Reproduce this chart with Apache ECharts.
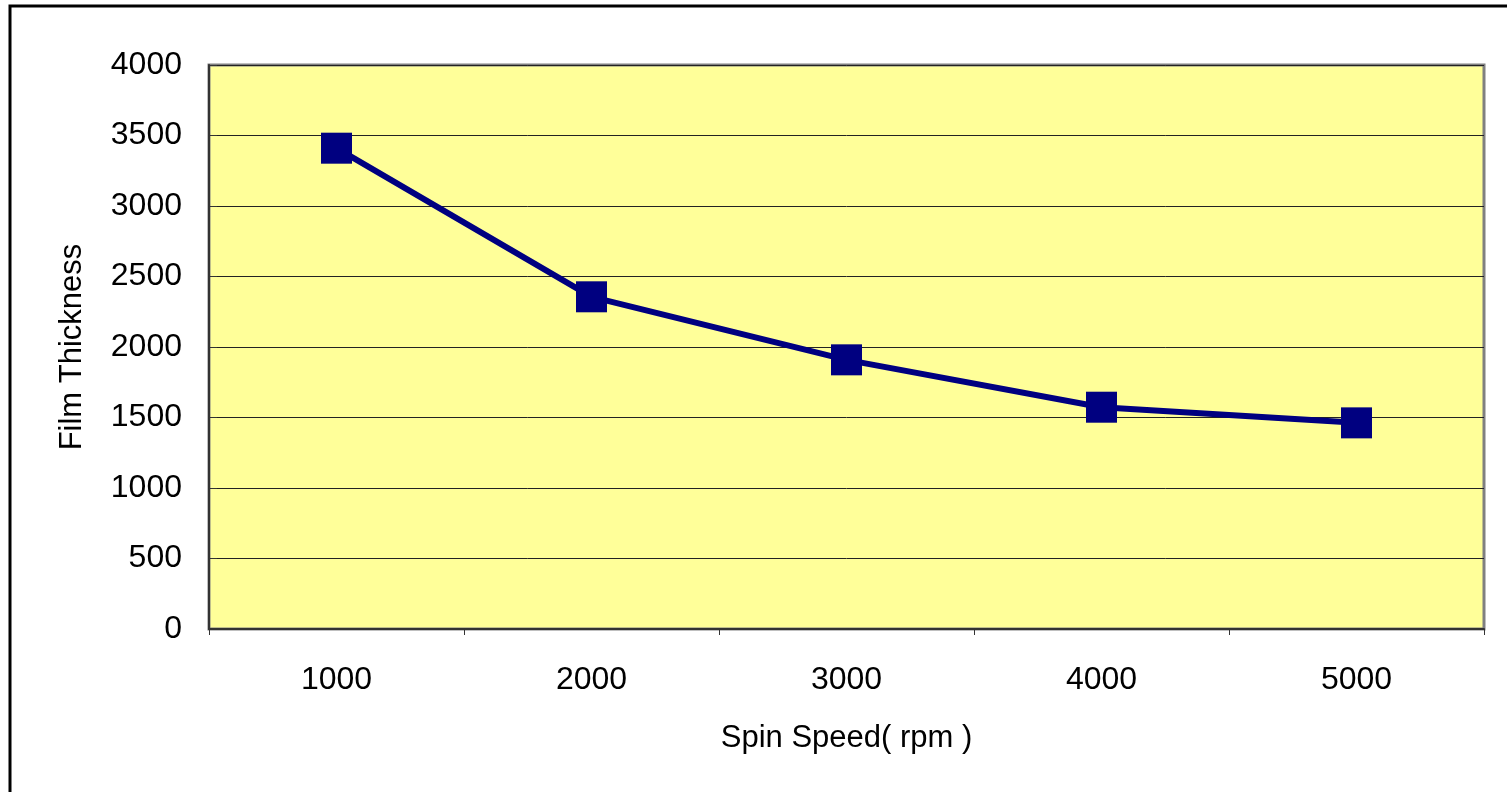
<!DOCTYPE html>
<html>
<head>
<meta charset="utf-8">
<script src="https://cdn.jsdelivr.net/npm/echarts@6/dist/echarts.min.js"></script>
<style>
html,body{margin:0;padding:0;background:#fff;}
#chart{width:1507px;height:792px;}
</style>
</head>
<body>
<div id="chart"></div>
<script>
var categories = ['1000', '2000', '3000', '4000', '5000'];
var thickness = [3410, 2356, 1909, 1573, 1462];
var xAxisTitle = 'Spin Speed( rpm )';
var yAxisTitle = 'Film Thickness';

var FONT = '"Liberation Sans", Arial, sans-serif';
var chart = echarts.init(document.getElementById('chart'));
chart.setOption({
  backgroundColor: '#ffffff',
  animation: false,
  graphic: [{
    type: 'polyline',
    shape: { points: [[10, 800], [10, 6], [1510, 6]] },
    style: { stroke: '#000', lineWidth: 3, fill: null },
    z: 100
  }],
  grid: {
    left: 209, right: 23, top: 65, bottom: 163,
    show: true,
    backgroundColor: '#FFFF99',
    borderColor: '#808080',
    borderWidth: 3
  },
  xAxis: {
    type: 'category',
    data: categories,
    boundaryGap: true,
    name: xAxisTitle,
    nameLocation: 'middle',
    nameGap: 94,
    nameTextStyle: { color: '#000', fontSize: 31, fontFamily: FONT },
    axisLine: { lineStyle: { color: '#333', width: 2 } },
    axisTick: { show: true, inside: false, length: 6, lineStyle: { color: '#333', width: 1 } },
    axisLabel: { color: '#000', fontSize: 32, fontFamily: FONT, margin: 35 },
    splitLine: { show: false }
  },
  yAxis: {
    type: 'value',
    min: 0, max: 4000, interval: 500,
    name: yAxisTitle,
    nameLocation: 'middle',
    nameGap: 121,
    nameRotate: 90,
    nameTextStyle: { color: '#000', fontSize: 31, fontFamily: FONT },
    axisLine: { show: true, lineStyle: { color: '#333', width: 2 } },
    axisTick: { show: true, inside: true, length: 8, lineStyle: { color: '#333' } },
    axisLabel: { color: '#000', fontSize: 32, fontFamily: FONT, margin: 27, formatter: function (v) { return String(v); } },
    splitLine: { show: true, lineStyle: { color: '#222', width: 1 } }
  },
  series: [{
    type: 'line',
    data: thickness,
    symbol: 'rect',
    symbolSize: 31,
    lineStyle: { color: '#000080', width: 6 },
    itemStyle: { color: '#000080' },
    z: 5
  }]
});
</script>
</body>
</html>
